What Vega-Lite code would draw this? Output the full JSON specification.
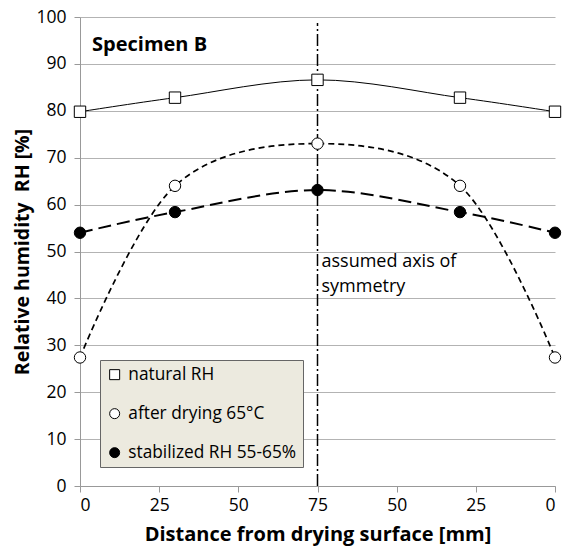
{
  "$schema": "https://vega.github.io/schema/vega-lite/v6.json",
  "width": 475,
  "height": 469,
  "autosize": {"type": "none"},
  "padding": {"left": 80, "top": 17, "right": 13, "bottom": 68},
  "background": "white",
  "config": {
    "font": "Open Sans",
    "view": {"stroke": null}
  },
  "datasets": {
    "series": [
      {"series": "natural RH", "x": 0, "rh": 79.8},
      {"series": "natural RH", "x": 30, "rh": 82.8},
      {"series": "natural RH", "x": 75, "rh": 86.6},
      {"series": "natural RH", "x": 120, "rh": 82.8},
      {"series": "natural RH", "x": 150, "rh": 79.8},
      {"series": "after drying 65°C", "x": 0, "rh": 27.4},
      {"series": "after drying 65°C", "x": 30, "rh": 64.0},
      {"series": "after drying 65°C", "x": 75, "rh": 73.0},
      {"series": "after drying 65°C", "x": 120, "rh": 64.0},
      {"series": "after drying 65°C", "x": 150, "rh": 27.4},
      {"series": "stabilized RH 55-65%", "x": 0, "rh": 54.0},
      {"series": "stabilized RH 55-65%", "x": 30, "rh": 58.4},
      {"series": "stabilized RH 55-65%", "x": 75, "rh": 63.1},
      {"series": "stabilized RH 55-65%", "x": 120, "rh": 58.4},
      {"series": "stabilized RH 55-65%", "x": 150, "rh": 54.0}
    ]
  },
  "encoding": {
    "x": {
      "field": "x",
      "type": "quantitative",
      "scale": {"domain": [0, 150], "nice": false, "zero": false},
      "axis": {
        "title": "Distance from drying surface [mm]",
        "values": [0, 25, 50, 75, 100, 125, 150],
        "labelExpr": "datum.value <= 75 ? datum.value : 150 - datum.value",
        "grid": false,
        "domainColor": "#999999",
        "tickColor": "#999999",
        "tickSize": 6,
        "labelPadding": 4,
        "labelFontSize": 17.5,
        "labelColor": "black",
        "titleFontSize": 20,
        "titleFontWeight": "bold",
        "titleColor": "black",
        "titlePadding": 11
      }
    },
    "y": {
      "field": "rh",
      "type": "quantitative",
      "scale": {"domain": [0, 100], "nice": false},
      "axis": {
        "title": "Relative humidity\u00a0 RH [%]",
        "values": [0, 10, 20, 30, 40, 50, 60, 70, 80, 90, 100],
        "grid": true,
        "gridColor": "#b3b3b3",
        "gridWidth": 1,
        "domainColor": "#999999",
        "tickColor": "#999999",
        "tickSize": 6,
        "labelPadding": 8,
        "labelFontSize": 17.5,
        "labelColor": "black",
        "titleFontSize": 19.5,
        "titleFontWeight": "bold",
        "titleColor": "black",
        "titlePadding": 3
      }
    }
  },
  "layer": [
    {
      "data": {"values": [{"x": 75, "rh": 0, "rh2": 98.7}]},
      "mark": {"type": "rule", "stroke": "black", "strokeWidth": 1.5, "strokeDash": [12, 3, 2, 3]},
      "encoding": {"y2": {"field": "rh2"}}
    },
    {
      "data": {"name": "series"},
      "transform": [{"filter": "datum.series === 'natural RH'"}],
      "mark": {"type": "line", "interpolate": "cardinal", "stroke": "black", "strokeWidth": 1},
      "encoding": {}
    },
    {
      "data": {"name": "series"},
      "transform": [{"filter": "datum.series === 'after drying 65°C'"}],
      "mark": {"type": "line", "interpolate": "cardinal", "stroke": "black", "strokeWidth": 1.7, "strokeDash": [6, 4]},
      "encoding": {}
    },
    {
      "data": {"name": "series"},
      "transform": [{"filter": "datum.series === 'stabilized RH 55-65%'"}],
      "mark": {"type": "line", "interpolate": "cardinal", "stroke": "black", "strokeWidth": 2, "strokeDash": [13, 6]},
      "encoding": {}
    },
    {
      "data": {"name": "series"},
      "mark": {"type": "point", "filled": true, "stroke": "black", "strokeWidth": 1, "opacity": 1, "size": 130},
      "encoding": {
        "fill": {
          "field": "series",
          "type": "nominal",
          "scale": {"domain": ["natural RH", "after drying 65°C", "stabilized RH 55-65%"], "range": ["white", "white", "black"]},
          "legend": {
            "title": null,
            "orient": "none",
            "legendX": 20,
            "legendY": 343,
            "fillColor": "#ECEADF",
            "strokeColor": "#666666",
            "padding": 6,
            "rowPadding": 21,
            "labelFont": "Open Sans",
            "labelFontSize": 17.3,
            "labelColor": "black",
            "labelLimit": 300,
            "labelOffset": 5,
            "symbolSize": 100,
            "symbolStrokeColor": "black",
            "symbolStrokeWidth": 1
          }
        },
        "shape": {
          "field": "series",
          "type": "nominal",
          "scale": {"domain": ["natural RH", "after drying 65°C", "stabilized RH 55-65%"], "range": ["square", "circle", "circle"]}
        }
      }
    },
    {
      "data": {"values": [{"x": 0, "rh": 94, "label": "Specimen B"}]},
      "mark": {"type": "text", "align": "left", "baseline": "middle", "dx": 12, "fontSize": 20, "fontWeight": "bold", "color": "black"},
      "encoding": {"text": {"field": "label"}}
    },
    {
      "data": {"values": [
        {"x": 75, "rh": 47.8, "label": "assumed axis of"},
        {"x": 75, "rh": 42.4, "label": "symmetry"}
      ]},
      "mark": {"type": "text", "align": "left", "baseline": "middle", "dx": 4, "fontSize": 18, "color": "black"},
      "encoding": {"text": {"field": "label"}}
    }
  ]
}
